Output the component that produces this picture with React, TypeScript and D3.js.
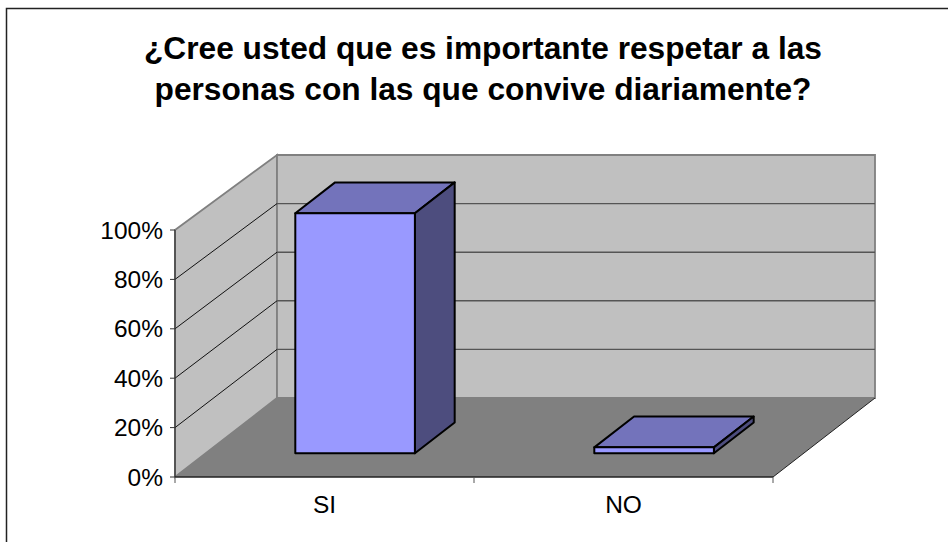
import React from "react";
import * as d3 from "d3";

const titleLines = ["¿Cree usted que es importante respetar a las", "personas con las que convive diariamente?"];
const categories = ["SI", "NO"];
const values = [97.2, 2.4];
const yTicks = [0, 20, 40, 60, 80, 100];

const FONT = "'Liberation Sans', Arial, sans-serif";
const dx = 102;
const x = d3.scaleBand<string>().domain(categories).range([175, 773]);
const y = d3.scaleLinear().domain([0, 100]).range([477, 230]);
const yBack = d3.scaleLinear().domain([0, 100]).range([398, 155]);
const dyFloor = yBack(0) - y(0);
const heightOf = (v: number) => y(0) - y(v);
const barFrac = 0.4;
const depthStart = 0.3;
const depthLen = 0.39;

const pts = (a: [number, number][]) => a.map((p) => p.join(",")).join(" ");

export default function App() {
  const x0 = x.range()[0];
  const x1 = x.range()[1];
  const y0 = y(0);
  const y1 = y(100);
  const bx0 = x0 + dx;
  const bx1 = x1 + dx;
  return (
    <svg width={948} height={542} style={{ position: "absolute", left: 0, top: 0, background: "#fff" }}>
      <path d="M6.5,542 V8.5 H948" fill="none" stroke="#222" strokeWidth={1.5} />
      {titleLines.map((t, i) => (
        <text key={t} x={483} y={59 + i * 41} textAnchor="middle" fontFamily={FONT} fontWeight="bold" fontSize={31.7} fill="#000">
          {t}
        </text>
      ))}
      {/* side wall */}
      <polygon points={pts([[x0, y0], [x0, y1], [bx0, yBack(100)], [bx0, yBack(0)]])} fill="#c0c0c0" stroke="#808080" strokeWidth={1.8} />
      {/* back wall */}
      <polygon points={pts([[bx0, yBack(0)], [bx0, yBack(100)], [bx1, yBack(100)], [bx1, yBack(0)]])} fill="#c0c0c0" stroke="#808080" strokeWidth={1.8} />
      {/* floor */}
      <polygon points={pts([[x0, y0], [bx0, yBack(0)], [bx1, yBack(0)], [x1, y0]])} fill="#808080" />
      <line x1={x1} y1={y0} x2={bx1} y2={yBack(0)} stroke="#222" strokeWidth={1} />
      {/* gridlines */}
      {yTicks.filter((t) => t > 0 && t < 100).map((t) => (
        <g key={t} fill="none">
          <line x1={x0} y1={y(t)} x2={bx0} y2={yBack(t)} stroke="#111" strokeWidth={1} />
          <line x1={bx0} y1={yBack(t)} x2={bx1} y2={yBack(t)} stroke="#555" strokeWidth={1.4} />
        </g>
      ))}
      {/* bars */}
      {categories.map((c, i) => {
        const bw = x.bandwidth() * barFrac;
        const fx = x(c)! + (x.bandwidth() - bw) / 2 + depthStart * dx;
        const by = y0 + depthStart * dyFloor;
        const h = heightOf(values[i]);
        const ddx = depthLen * dx;
        const ddy = depthLen * dyFloor;
        const t = by - h;
        return (
          <g key={c} stroke="#000" strokeWidth={2} strokeLinejoin="round">
            <polygon points={pts([[fx, t], [fx + ddx, t + ddy], [fx + bw + ddx, t + ddy], [fx + bw, t]])} fill="#7373bb" />
            <polygon points={pts([[fx + bw, t], [fx + bw + ddx, t + ddy], [fx + bw + ddx, by + ddy], [fx + bw, by]])} fill="#4d4d7e" />
            <rect x={fx} y={t} width={bw} height={h} fill="#9999ff" />
          </g>
        );
      })}
      {/* axes */}
      <line x1={x0} y1={y1} x2={x0} y2={y0} stroke="#333" strokeWidth={1.2} />
      <line x1={x0} y1={y0} x2={x1} y2={y0} stroke="#222" strokeWidth={1.5} />
      {yTicks.map((t) => (
        <g key={t}>
          <line x1={x0 - 5} y1={y(t)} x2={x0} y2={y(t)} stroke="#333" strokeWidth={1} />
          <text x={163} y={y(t) + 8.5} textAnchor="end" fontFamily={FONT} fontSize={24.5} fill="#000">
            {t}%
          </text>
        </g>
      ))}
      {[x0, x(categories[1])!, x1].map((v) => (
        <line key={v} x1={v} y1={y0} x2={v} y2={y0 + 6} stroke="#555" strokeWidth={1} />
      ))}
      {categories.map((c) => (
        <text key={c} x={x(c)! + x.bandwidth() / 2} y={513} textAnchor="middle" fontFamily={FONT} fontSize={24.5} fill="#000">
          {c}
        </text>
      ))}
    </svg>
  );
}
